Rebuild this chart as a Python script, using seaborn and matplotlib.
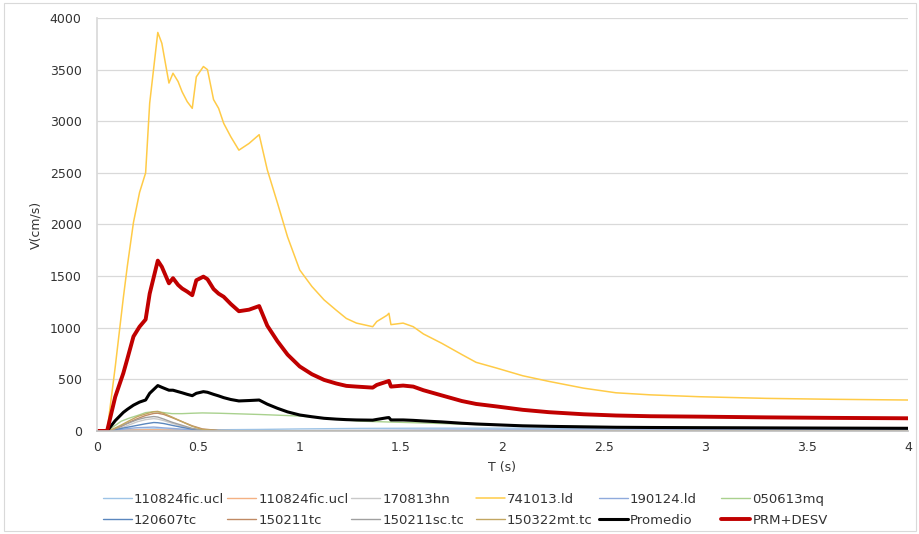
import numpy as np
import pandas as pd
import matplotlib
matplotlib.use("Agg")
import matplotlib.pyplot as plt
import seaborn as sns
from matplotlib.patches import Rectangle

# ---------------- data ----------------
# period grid for the large series
T = [0, 0.05, 0.09, 0.13, 0.15, 0.18, 0.21, 0.24, 0.26, 0.30, 0.32, 0.355, 0.375,
     0.40, 0.42, 0.445, 0.47, 0.49, 0.525, 0.545, 0.575, 0.60, 0.625, 0.66, 0.70,
     0.75, 0.80, 0.84, 0.89, 0.94, 1.00, 1.06, 1.12, 1.18, 1.23, 1.28, 1.36, 1.38,
     1.43, 1.44, 1.45, 1.51, 1.56, 1.61, 1.70, 1.80, 1.87, 1.97, 2.10, 2.23, 2.40,
     2.56, 2.73, 2.97, 3.30, 3.63, 4.00]

v_741013_ld = [0, 0, 620, 1290, 1600, 2020, 2310, 2500, 3175, 3860, 3755, 3370, 3465,
               3385, 3285, 3190, 3125, 3430, 3530, 3500, 3210, 3125, 2980, 2850, 2720,
               2785, 2870, 2530, 2210, 1880, 1560, 1400, 1270, 1170, 1090, 1045, 1010, 1060,
               1120, 1140, 1030, 1045, 1010, 940, 850, 740, 665, 610, 535, 480, 415,
               370, 350, 332, 316, 307, 300]

v_promedio = [0, 0, 100, 180, 210, 250, 280, 300, 365, 440, 423, 395, 395,
              381, 370, 355, 342, 365, 381, 375, 355, 340, 323, 305, 291,
              295, 300, 260, 220, 185, 155, 138, 123, 115, 110, 107, 105, 112,
              128, 130, 107, 107, 103, 97, 88, 75, 68, 60, 50, 45, 40,
              36, 34, 32, 30, 28, 26]

v_prm_desv = [0, 0, 330, 560, 700, 915, 1010, 1080, 1330, 1650, 1590, 1430, 1480,
              1415, 1380, 1350, 1315, 1460, 1495, 1470, 1375, 1330, 1300, 1230, 1160,
              1175, 1210, 1020, 870, 740, 625, 550, 495, 460, 437, 430, 420, 446,
              478, 485, 430, 440, 430, 395, 345, 290, 262, 238, 205, 182, 162,
              150, 143, 139, 132, 127, 123]

# period grid for the small records
T_small = [0, 0.05, 0.08, 0.12, 0.16, 0.20, 0.24, 0.28, 0.30, 0.33, 0.37, 0.42,
           0.47, 0.52, 0.60, 0.80, 1.00, 1.30, 1.60, 2.00, 2.50, 3.00, 3.50, 4.00]

v_110824fic_ucl_a = [0, 0, 3, 8, 12, 15, 18, 20, 20, 18, 15, 12, 10, 10, 12, 15, 20, 25, 27, 27, 25, 22, 20, 18]
v_110824fic_ucl_b = [0, 0, 2, 5, 8, 10, 12, 12, 12, 10, 8, 6, 5, 4, 3, 3, 3, 4, 5, 5, 5, 5, 5, 5]
v_170813hn = [0, 0, 10, 30, 60, 90, 110, 120, 115, 100, 75, 45, 20, 8, 3, 1, 1, 2, 3, 3, 3, 3, 3, 3]
v_190124_ld = [0, 0, 5, 15, 25, 32, 35, 38, 35, 30, 25, 18, 12, 6, 3, 2, 3, 5, 8, 10, 10, 10, 10, 10]
v_050613mq = [0, 0, 40, 95, 125, 150, 178, 187, 185, 178, 168, 168, 172, 175, 172, 160, 145, 95, 78, 55, 42, 35, 30, 28]
v_120607tc = [0, 0, 8, 25, 40, 55, 70, 82, 80, 72, 55, 35, 18, 8, 2, 0, 0, 0, 0, 0, 0, 0, 0, 0]
v_150211tc = [0, 0, 15, 45, 85, 120, 150, 170, 172, 160, 130, 90, 50, 20, 5, 0, 0, 0, 0, 0, 0, 0, 0, 0]
v_150211sc_tc = [0, 0, 15, 50, 80, 110, 130, 140, 135, 115, 85, 55, 25, 8, 2, 0, 0, 0, 0, 0, 0, 0, 0, 0]
v_150322mt_tc = [0, 0, 20, 58, 100, 140, 165, 187, 190, 170, 135, 90, 45, 15, 3, 0, 0, 0, 0, 0, 0, 0, 0, 0]

labels = ["110824fic.ucl", "110824fic.ucl", "170813hn", "741013.ld", "190124.ld", "050613mq",
          "120607tc", "150211tc", "150211sc.tc", "150322mt.tc", "Promedio", "PRM+DESV"]

x_ticks = [0, 0.5, 1, 1.5, 2, 2.5, 3, 3.5, 4]
x_tick_labels = ["0", "0.5", "1", "1.5", "2", "2.5", "3", "3.5", "4"]
y_ticks = [0, 500, 1000, 1500, 2000, 2500, 3000, 3500, 4000]

# ---------------- style ----------------
sns.set_theme(style="white")
plt.rcParams["font.family"] = ["DejaVu Sans"]

series = [
    (T_small, v_110824fic_ucl_a, "#9DC3E6", 1.0),
    (T_small, v_110824fic_ucl_b, "#F4B183", 1.0),
    (T_small, v_170813hn, "#C9C9C9", 1.0),
    (T, v_741013_ld, "#FFCB47", 1.1),
    (T_small, v_190124_ld, "#8FAADC", 1.0),
    (T_small, v_050613mq, "#A9D18E", 1.0),
    (T_small, v_120607tc, "#5B87BE", 1.0),
    (T_small, v_150211tc, "#C08A64", 1.0),
    (T_small, v_150211sc_tc, "#A0A0A0", 1.0),
    (T_small, v_150322mt_tc, "#C2A661", 1.0),
    (T, v_promedio, "#000000", 2.2),
    (T, v_prm_desv, "#C00000", 2.8),
]

fig = plt.figure(figsize=(9.2, 5.34), dpi=100)
ax = fig.add_axes([0.1054, 0.1929, 0.8815, 0.7734])

handles = []
for (tx, vals, col, lw), lab in zip(series, labels):
    df = pd.DataFrame({"T": tx, "V": vals})
    sns.lineplot(data=df, x="T", y="V", ax=ax, color=col, linewidth=lw,
                 estimator=None, sort=False, legend=False)
    handles.append(ax.lines[-1])

FS = 9
LFS = 9.5
TXT = "#333333"
ax.set_xlim(0, 4)
ax.set_ylim(0, 4000)
ax.set_xticks(x_ticks)
ax.set_xticklabels(x_tick_labels)
ax.set_yticks(y_ticks)
ax.tick_params(axis="both", length=0, labelsize=FS, colors=TXT)
ax.tick_params(axis="y", pad=11)
ax.tick_params(axis="x", pad=7)
ax.grid(axis="y", color="#D9D9D9", linewidth=0.9)
ax.set_axisbelow(True)
for s in ["top", "right"]:
    ax.spines[s].set_visible(False)
ax.spines["left"].set_color("#D9D9D9")
ax.spines["bottom"].set_color("#BFBFBF")
ax.set_xlabel("T (s)", fontsize=FS, color=TXT, labelpad=5)
ax.set_ylabel("V(cm/s)", fontsize=FS, color=TXT, labelpad=5)

# legend: six columns, two rows
col_x = [0.112, 0.247, 0.382, 0.517, 0.651, 0.784]
for c in range(6):
    hs = [handles[c], handles[c + 6]]
    ls = [labels[c], labels[c + 6]]
    leg = fig.legend(hs, ls, loc="upper left", bbox_to_anchor=(col_x[c], 0.0775),
                     frameon=False, fontsize=LFS, handlelength=2.2, handletextpad=0.15,
                     borderpad=0, borderaxespad=0, labelspacing=0.62)
    for t in leg.get_texts():
        t.set_color(TXT)

fig.patches.append(Rectangle((0.004, 0.006), 0.992, 0.988, transform=fig.transFigure,
                             fill=False, edgecolor="#D9D9D9", linewidth=0.8))

fig.savefig("out.png", dpi=100)
